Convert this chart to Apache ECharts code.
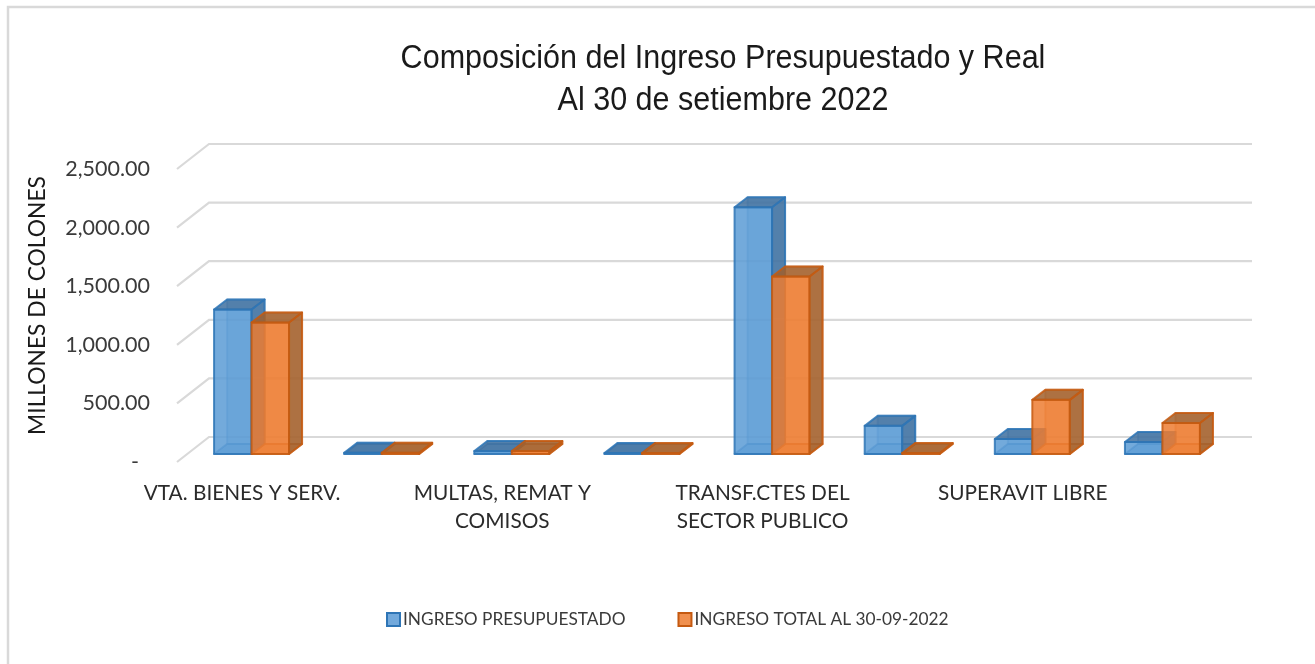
<!DOCTYPE html>
<html lang="en">
<head>
<meta charset="UTF-8">
<title>Composición del Ingreso</title>
<script src="https://cdn.jsdelivr.net/npm/echarts@6/dist/echarts.min.js"></script>
<style>
html,body{margin:0;padding:0;background:#fff}
#chartBox{width:1315px;height:664px}
</style>
</head>
<body>
<div id="chartBox"></div>
<script>
// las categorias pares no llevan etiqueta en el original
const categories = ['VTA. BIENES Y SERV.', '', 'MULTAS, REMAT Y\nCOMISOS', '', 'TRANSF.CTES DEL\nSECTOR PUBLICO', '', 'SUPERAVIT LIBRE', ''];
const presupuestado = [1233, 10, 25, 5, 2106, 240, 128, 103];
const ingresoTotal = [1122, 10, 25, 5, 1515, 5, 462, 265];
const yTicks = [0, 500, 1000, 1500, 2000, 2500];

const nameA = 'INGRESO PRESUPUESTADO';
const nameB = 'INGRESO TOTAL AL 30-09-2022';
const chartTitle = 'Composición del Ingreso Presupuestado y Real\nAl 30 de setiembre 2022';

const wallDx = 32, wallDy = -25;   // del plano frontal a la pared del fondo
const wallEnd = 1220;

const blue = {front: '#5b9bd5', dark: '#3f709f', edge: '#2e75b6'};
const orange = {front: '#ed7d31', dark: '#a0602e', edge: '#c55a11'};

function gridRender(params, api) {
    let y = api.coord([0, api.value(1)])[1];
    return {
        type: 'polyline',
        shape: {points: [[177, y], [177 + wallDx, y + wallDy], [wallEnd + wallDx, y + wallDy]]},
        style: {stroke: '#d9d9d9', lineWidth: 2.2, fill: 'none'}
    };
}

function barRender(side, colors) {
    return function (params, api) {
        let base = api.coord([api.value(0), 0]);
        let top = api.coord([api.value(0), api.value(1)]);
        let w = 37.5, dx = 13, dy = -10;
        let x0 = base[0] + 9.5 + (side === 0 ? -w : 0);
        let x1 = x0 + w;
        let yb = base[1] - 8;
        let yt = Math.min(top[1] - 8, yb - 1);
        let poly = (pts, fill, op) => ({
            type: 'polygon',
            shape: {points: pts},
            style: {fill: fill, opacity: op, stroke: colors.edge, lineWidth: 2, lineJoin: 'round'}
        });
        return {
            type: 'group',
            children: [
                poly([[x0 + dx, yb + dy], [x1 + dx, yb + dy], [x1 + dx, yt + dy], [x0 + dx, yt + dy]], colors.front, 0.35),
                poly([[x0, yb], [x1, yb], [x1 + dx, yb + dy], [x0 + dx, yb + dy]], colors.front, 0.6),
                poly([[x0, yb], [x1, yb], [x1, yt], [x0, yt]], colors.front, 0.85),
                poly([[x1, yb], [x1 + dx, yb + dy], [x1 + dx, yt + dy], [x1, yt]], colors.dark, 0.85),
                poly([[x0, yt], [x1, yt], [x1 + dx, yt + dy], [x0 + dx, yt + dy]], colors.dark, 0.85)
            ]
        };
    };
}

let chartObj = echarts.init(document.getElementById('chartBox'));
chartObj.setOption({
    animation: false,
    textStyle: {fontFamily: 'Lato'},
    grid: {left: 177, width: 1041, top: 169, height: 293, containLabel: false},
    xAxis: {
        type: 'category',
        data: categories,
        axisLine: {show: false},
        axisTick: {show: false},
        axisLabel: {interval: 0, margin: 17, fontSize: 20.8, lineHeight: 28, color: '#2b2b2b'}
    },
    yAxis: {
        type: 'value',
        min: 0,
        max: 2500,
        interval: 500,
        name: 'MILLONES DE COLONES',
        nameLocation: 'middle',
        nameGap: 128,
        nameTextStyle: {fontSize: 22.8, color: '#1a1a1a', padding: [0, 0, 0, 20]},
        axisLine: {show: false},
        axisTick: {show: false},
        splitLine: {show: false},
        axisLabel: {
            margin: 27, fontSize: 21.5, color: '#3a3a3a',
            formatter: v => v === 0 ? '-\u00a0\u00a0' : v.toLocaleString('en-US', {minimumFractionDigits: 2})
        }
    },
    legend: {
        top: 606, left: 381, itemWidth: 13, itemHeight: 13, itemGap: 52,
        textStyle: {fontSize: 17.3, color: '#3a3a3a', padding: [0, 0, 0, -2]},
        data: [
            {name: nameA, icon: 'rect', itemStyle: {color: '#72a9dc', borderColor: blue.edge, borderWidth: 2}},
            {name: nameB, icon: 'rect', itemStyle: {color: '#f0904f', borderColor: orange.edge, borderWidth: 2}}
        ]
    },
    graphic: [
        {
            type: 'polyline',
            shape: {points: [[8, 664], [8, 7], [1315, 7]]},
            style: {fill: 'none', stroke: '#d9d9d9', lineWidth: 2.5},
            silent: true
        },
        {
            // no hay Arial Narrow instalada: se estrecha el texto
            type: 'text', x: 723, y: 80, scaleX: 0.925,
            style: {
                text: chartTitle, textAlign: 'center', textVerticalAlign: 'middle',
                fontFamily: 'Liberation Sans', fontSize: 33, lineHeight: 42, fill: '#1a1a1a'
            },
            silent: true
        }
    ],
    series: [
        {
            type: 'custom', name: 'rejilla', silent: true, clip: false, z: 1,
            data: yTicks.map(v => [0, v]),
            encode: {x: 0, y: 1},
            renderItem: gridRender
        },
        {
            type: 'custom', name: nameA, clip: false, z: 2,
            data: presupuestado.map((v, i) => [i, v]),
            encode: {x: 0, y: 1},
            itemStyle: {color: '#72a9dc'},
            renderItem: barRender(0, blue)
        },
        {
            type: 'custom', name: nameB, clip: false, z: 3,
            data: ingresoTotal.map((v, i) => [i, v]),
            encode: {x: 0, y: 1},
            itemStyle: {color: '#f0904f'},
            renderItem: barRender(1, orange)
        }
    ]
});
</script>
</body>
</html>
